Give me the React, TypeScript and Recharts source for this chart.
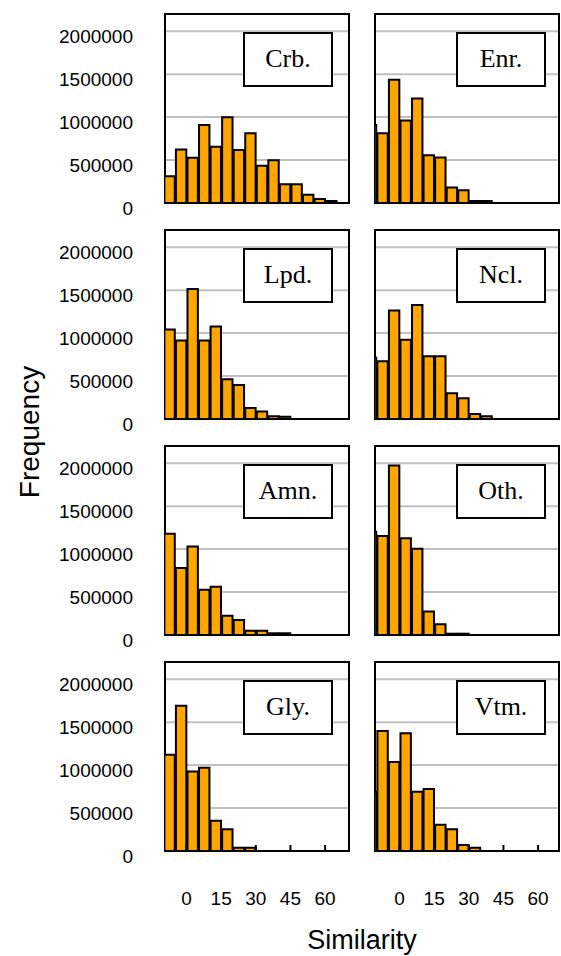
import React from "react";
import {
  BarChart,
  Bar,
  XAxis,
  YAxis,
  CartesianGrid,
  ReferenceArea,
} from "recharts";

// bin centres (width 5) - right column shows a sliver of the -15..-10 bin
const leftBins = [-7.5, -2.5, 2.5, 7.5, 12.5, 17.5, 22.5, 27.5, 32.5, 37.5, 42.5, 47.5, 52.5, 57.5, 62.5];
const rightBins = [-12.5, -7.5, -2.5, 2.5, 7.5, 12.5, 17.5, 22.5, 27.5, 32.5, 37.5];

const crb = [310000, 624000, 526000, 908000, 655000, 998000, 616000, 811000, 433000, 499000, 218000, 218000, 97000, 47000, 23000];
const enr = [908000, 811000, 1435000, 959000, 1216000, 557000, 530000, 179000, 148000, 23000, 23000];
const lpd = [1042000, 915000, 1512000, 915000, 1077000, 462000, 396000, 127000, 88000, 31000, 27000];
const ncl = [712000, 673000, 1262000, 923000, 1327000, 731000, 731000, 300000, 242000, 58000, 31000];
const amn = [1180000, 781000, 1031000, 527000, 563000, 223000, 176000, 50000, 50000, 20000, 20000];
const oth = [1203000, 1152000, 1973000, 1125000, 1004000, 273000, 125000, 15000, 15000];
const gly = [1121000, 1691000, 926000, 969000, 352000, 254000, 39000, 39000];
const vtm = [691000, 1398000, 1035000, 1371000, 691000, 723000, 305000, 254000, 70000, 39000];

const yTicks = [0, 500000, 1000000, 1500000, 2000000];
const xTicks = [0, 15, 30, 45, 60];

const ROW_TOP = [14, 230, 446, 662];
const PLOT_W = 184;
const PLOT_H = 189;
const PAD = 4;
const LEFT_X = 165;
const RIGHT_X = 375;
const LEFT_DOMAIN = [-9.3, 70.35];
const RIGHT_DOMAIN = [-10.6, 69.05];
const sans = "'Liberation Sans', Arial, sans-serif";

const renderYTick = (props: any) => (
  <text
    x={props.x}
    y={props.y + 5}
    textAnchor="end"
    dominantBaseline="central"
    fontSize={19}
    fontFamily={sans}
    fill="#000"
  >
    {props.payload.value}
  </text>
);

const renderXTick = (props: any) => (
  <g>
    <line x1={props.x} x2={props.x} y1={props.y} y2={props.y - 6} stroke="#000" strokeWidth={2} />
    <text
      x={props.x}
      y={props.y + 47}
      textAnchor="middle"
      dominantBaseline="central"
      fontSize={19}
      fontFamily={sans}
      fill="#000"
    >
      {props.payload.value}
    </text>
  </g>
);

type PanelProps = { label: string; values: number[]; side: "left" | "right"; row: number };

const Panel: React.FC<PanelProps> = ({ label, values, side, row }) => {
  const isLeft = side === "left";
  const bottom = row === 3;
  const bins = isLeft ? leftBins : rightBins;
  const domain = isLeft ? LEFT_DOMAIN : RIGHT_DOMAIN;
  const data = values.map((v, i) => ({ bin: bins[i], freq: v }));
  const barPx = (5 * PLOT_W) / (domain[1] - domain[0]);
  const width = isLeft ? LEFT_X + PLOT_W + PAD : PAD + PLOT_W + 2;
  const bottomSpace = bottom ? 70 : 22;
  const height = PAD + PLOT_H + bottomSpace;
  const plotX = isLeft ? LEFT_X : RIGHT_X;

  return (
    <>
      <div style={{ position: "absolute", left: isLeft ? 0 : RIGHT_X - PAD, top: ROW_TOP[row] - PAD }}>
        <BarChart
          width={width}
          height={height}
          data={data}
          margin={{ top: PAD, right: isLeft ? PAD : 2, bottom: bottom ? 0 : bottomSpace, left: isLeft ? 0 : PAD }}
          barCategoryGap={0}
          barGap={0}
        >
          <CartesianGrid vertical={false} stroke="#c0c0c0" strokeWidth={2} />
          <XAxis
            type="number"
            dataKey="bin"
            domain={domain}
            allowDataOverflow
            ticks={xTicks}
            interval={0}
            hide={!bottom}
            height={bottom ? 70 : 0}
            axisLine={false}
            tickLine={false}
            tickSize={0}
            tickMargin={0}
            tick={renderXTick}
          />
          <YAxis
            type="number"
            domain={[0, 2200000]}
            allowDataOverflow
            ticks={yTicks}
            interval={0}
            hide={!isLeft}
            width={LEFT_X}
            axisLine={false}
            tickLine={false}
            tickSize={0}
            tickMargin={32}
            tick={renderYTick}
          />
          <Bar dataKey="freq" fill="#FFA500" stroke="#000" strokeWidth={2} barSize={barPx} isAnimationActive={false} />
          <ReferenceArea y1={0} y2={2200000} fill="none" fillOpacity={0} stroke="#000" strokeWidth={2} />
        </BarChart>
      </div>
      <div
        style={{
          position: "absolute",
          left: plotX + (isLeft ? 78 : 81),
          top: ROW_TOP[row] + 17.5,
          width: 90,
          height: 55,
          boxSizing: "border-box",
          border: "2px solid #000",
          background: "#fff",
          display: "flex",
          alignItems: "center",
          justifyContent: "center",
          fontFamily: "'Liberation Serif', 'Times New Roman', serif",
          fontSize: 26,
          color: "#000",
        }}
      >
        {label}
      </div>
    </>
  );
};

export default function App() {
  return (
    <div style={{ position: "relative", width: 561, height: 956, overflow: "hidden", background: "#fff" }}>
      <style>{`body{margin:0}`}</style>
      <Panel label="Crb." values={crb} side="left" row={0} />
      <Panel label="Enr." values={enr} side="right" row={0} />
      <Panel label="Lpd." values={lpd} side="left" row={1} />
      <Panel label="Ncl." values={ncl} side="right" row={1} />
      <Panel label="Amn." values={amn} side="left" row={2} />
      <Panel label="Oth." values={oth} side="right" row={2} />
      <Panel label="Gly." values={gly} side="left" row={3} />
      <Panel label="Vtm." values={vtm} side="right" row={3} />
      <div
        style={{
          position: "absolute",
          left: 30,
          top: 432,
          transform: "translate(-50%, -50%) rotate(-90deg)",
          fontFamily: sans,
          fontSize: 28,
          whiteSpace: "nowrap",
        }}
      >
        Frequency
      </div>
      <div
        style={{
          position: "absolute",
          left: 362,
          top: 940,
          transform: "translate(-50%, -50%)",
          fontFamily: sans,
          fontSize: 27,
          whiteSpace: "nowrap",
        }}
      >
        Similarity
      </div>
    </div>
  );
}
